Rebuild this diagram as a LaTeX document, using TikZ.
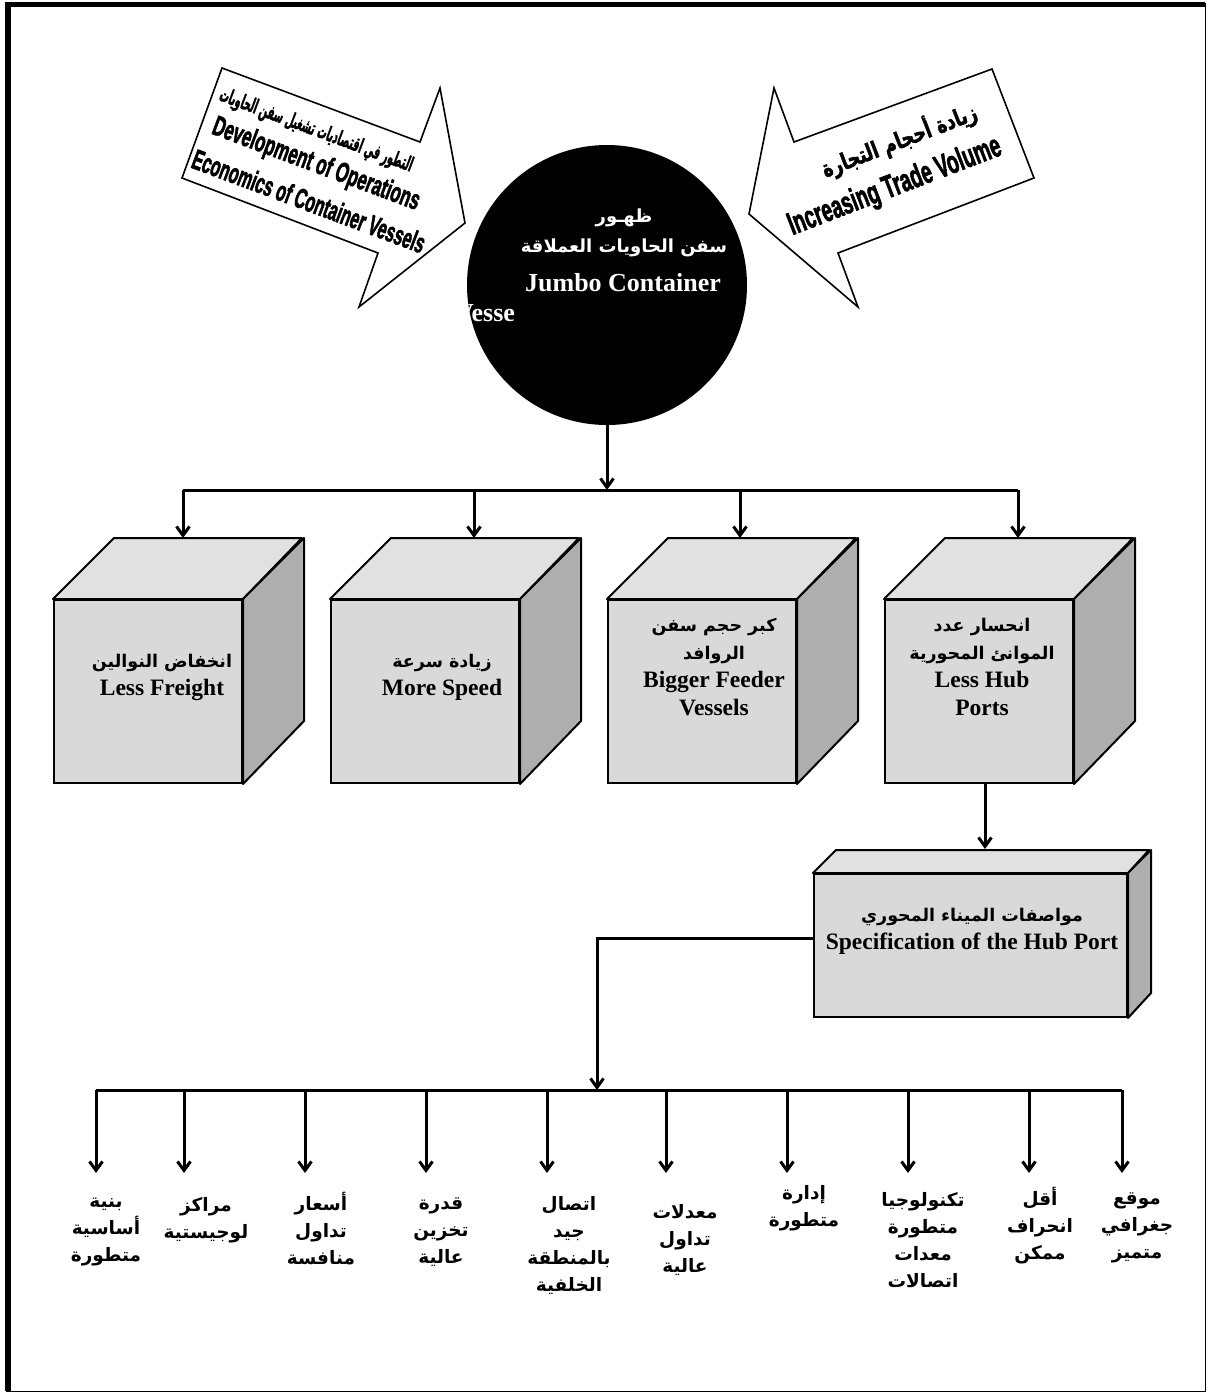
\documentclass[tikz,border=0pt]{standalone}
\usepackage{fontspec}
\usepackage{graphicx}
\setmainfont{Liberation Serif}
\newfontfamily\arabicfont[Script=Arabic]{DejaVu Sans}
\newfontfamily\arabicheavy[Script=Arabic, BoldFeatures={FakeBold=2}]{DejaVu Sans}
\newfontfamily\heavyfont[BoldFeatures={FakeBold=2.5}]{Liberation Sans}
\TeXXeTstate=1
\usetikzlibrary{arrows.meta}

\definecolor{facegray}{HTML}{D9D9D9}
\definecolor{topgray}{HTML}{E1E1E1}
\definecolor{sidegray}{HTML}{AEAEAE}

% Arabic run, set right to left
\newcommand\artxt[1]{{\arabicfont\bfseries\fontsize{17.5}{20}\selectfont\beginR #1\endR}}
\newcommand\arlbl[1]{{\arabicfont\bfseries\beginR #1\endR}}

% a box drawn as a cube: front face node plus top and side faces
\newcommand\drawcube[6]{%
  \node[front, minimum width=#4pt, minimum height=#5pt, anchor=north west] (#1) at (#2,#3) {};
  \filldraw[topface] (#1.north west) -- ++(#6,-#6) -- ++(#4,0) -- (#1.north east) -- cycle;
  \filldraw[sideface] (#1.north east) -- ++(#6,-#6) -- ++(0,#5) -- (#1.south east) -- cycle;
}

\tikzset{
  bar/.style={line width=3pt},
  conn/.style={line width=3pt, -{Straight Barb[length=9pt,width=13pt]}},
  front/.style={draw, line width=2pt, fill=facegray, inner sep=0pt},
  topface/.style={line width=2pt, fill=topgray, draw, line join=round},
  sideface/.style={line width=2pt, fill=sidegray, draw, line join=round},
  ctext/.style={align=center, font=\bfseries\fontsize{23.5}{28}\selectfont},
  blockarrow/.style={draw, line width=1.6pt, fill=white, line join=miter},
  heavy/.style={font=\heavyfont\bfseries\fontsize{28}{28}\selectfont},
  lbl/.style={align=center, font=\arabicfont\bfseries\fontsize{18.5}{27}\selectfont},
}

\begin{document}
\begin{tikzpicture}[x=1pt,y=-1pt]
\useasboundingbox (0,0) rectangle (1208,1393);

% page frame
\draw[line width=1.2pt] (7,4) rectangle (1205.5,1391.5);
\draw[line width=5.5pt] (8,1391) -- (8,4.5) -- (1205,4.5);

% left block arrow
\draw[blockarrow] (222,68) -- (420,142) -- (440,88) -- (465,223) -- (359,307) -- (378,253) -- (182,178) -- cycle;
\node[rotate=-20.5, font=\arabicheavy\bfseries\fontsize{20}{22}\selectfont, inner sep=0pt] (la1) at (316,131)
  {\scalebox{0.47}[1]{\beginR التطور في اقتصاديات تشغيل سفن الحاويات\endR}};
\node[rotate=-20.5, heavy, inner sep=0pt] (la2) at (316,165) {\scalebox{0.6}[1]{Development of Operations}};
\node[rotate=-20.5, heavy, inner sep=0pt] (la3) at (309,201) {\scalebox{0.57}[1]{Economics of Container Vessels}};

% right block arrow
\draw[blockarrow] (992,69) -- (794,142) -- (774,88) -- (749,214) -- (858,307) -- (838,253) -- (1034,178) -- cycle;
\node[rotate=21, font=\arabicheavy\bfseries\fontsize{23}{24}\selectfont, inner sep=0pt] (ra1) at (899,140)
  {\scalebox{0.76}[1]{\beginR زيادة أحجام التجارة\endR}};
\node[rotate=21, font=\heavyfont\bfseries\fontsize{32}{32}\selectfont, inner sep=0pt] (ra2) at (895,187) {\scalebox{0.6}[1]{Increasing Trade Volume}};

% central circle
\node[circle, fill=black, minimum size=280pt, inner sep=0pt] (hub) at (607,285) {};
\node[text=white, align=center, font=\arabicfont\bfseries\fontsize{18}{30}\selectfont] (hubar) at (624,233)
  {\beginR ظهـور\endR\\\beginR سفن الحاويات العملاقة\endR};
\node[text=white, font=\bfseries\fontsize{26}{30}\selectfont] (huben) at (623,283) {Jumbo Container};
\node[text=white, font=\bfseries\fontsize{26}{30}\selectfont, anchor=west, inner sep=0pt] (hubv) at (455,313) {Vesse};

% first level of consequences
\drawcube{c1}{53}{599}{188}{183}{61}
\drawcube{c2}{330}{599}{188}{183}{61}
\drawcube{c3}{607}{599}{188}{183}{61}
\drawcube{c4}{884}{599}{188}{183}{61}

\node[ctext] (c1t) at (162,677) {\artxt{انخفاض النوالين}\\Less Freight};
\node[ctext] (c2t) at (442,677) {\artxt{زيادة سرعة}\\More Speed};
\node[ctext] (c3t) at (714,667) {\artxt{كبر حجم سفن}\\\artxt{الروافد}\\Bigger Feeder\\Vessels};
\node[ctext] (c4t) at (982,667) {\artxt{انحسار عدد}\\\artxt{الموانئ المحورية}\\Less Hub\\Ports};

% hub port specification box
\drawcube{spec}{813}{873}{313}{143}{23}
\node[ctext] (spect) at (972,931) {\artxt{مواصفات الميناء المحوري}\\Specification of the Hub Port};

% connectors from the circle to the cubes
\coordinate (j0) at (607,490);
\coordinate (j1) at (183,490);
\coordinate (j2) at (474,490);
\coordinate (j3) at (740,490);
\coordinate (j4) at (1018,490);
\coordinate (t1) at (183,538);
\coordinate (t2) at (474,538);
\coordinate (t3) at (740,538);
\coordinate (t4) at (1018,538);
\draw[conn] (hub.south) -- (j0);
\draw[bar] (j1) -- (j4);
\draw[conn] (j1) -- (t1);
\draw[conn] (j2) -- (t2);
\draw[conn] (j3) -- (t3);
\draw[conn] (j4) -- (t4);

% from the hub ports cube to the specification box
\coordinate (c4foot) at (985,782);
\coordinate (spectop) at (985,849);
\draw[conn] (c4foot) -- (spectop);

% from the specification box to the list of requirements
\coordinate (k0) at (597,1090);
\draw[conn] ([yshift=7.5pt]spec.west) -| (k0);
\foreach \x [count=\i] in {96,184,305,426,547,666,787,908,1029,1122} {
  \coordinate (k\i) at (\x,1090);
  \coordinate (e\i) at (\x,1173);
  \draw[conn] (k\i) -- (e\i);
}
\draw[bar] (k1) -- (k10);

% requirement labels
\node[lbl] (b1) at (106,1232) {\arlbl{بنية}\\\arlbl{أساسية}\\\arlbl{متطورة}};
\node[lbl] (b2) at (206,1220) {\arlbl{مراكز}\\\arlbl{لوجيستية}};
\node[lbl] (b3) at (321,1229) {\arlbl{أسعار}\\\arlbl{تداول}\\\arlbl{منافسة}};
\node[lbl] (b4) at (441,1232) {\arlbl{قدرة}\\\arlbl{تخزين}\\\arlbl{عالية}};
\node[lbl] (b5) at (569,1245) {\arlbl{اتصال}\\\arlbl{جيد}\\\arlbl{بالمنطقة}\\\arlbl{الخلفية}};
\node[lbl] (b6) at (685,1240) {\arlbl{معدلات}\\\arlbl{تداول}\\\arlbl{عالية}};
\node[lbl] (b7) at (804,1208) {\arlbl{إدارة}\\\arlbl{متطورة}};
\node[lbl] (b8) at (923,1240) {\arlbl{تكنولوجيا}\\\arlbl{متطورة}\\\arlbl{معدات}\\\arlbl{اتصالات}};
\node[lbl] (b9) at (1040,1226) {\arlbl{أقل}\\\arlbl{انحراف}\\\arlbl{ممكن}};
\node[lbl] (b10) at (1137,1228) {\arlbl{موقع}\\\arlbl{جغرافي}\\\arlbl{متميز}};
\end{tikzpicture}
\end{document}
